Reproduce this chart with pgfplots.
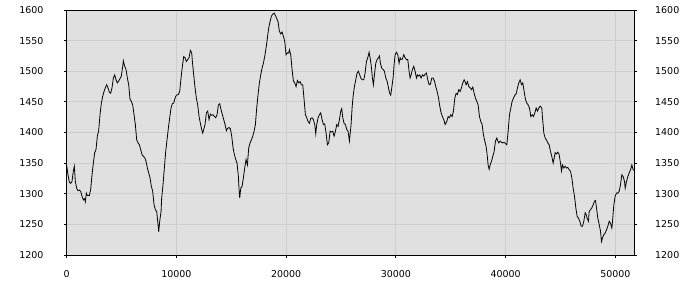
\documentclass[border=0pt]{standalone}
\usepackage{fontspec}
\setmainfont{DejaVu Sans}
\usepackage{pgfplots}
\usepackage{pgfplotstable}
\pgfplotsset{compat=1.18}
\definecolor{bgc}{RGB}{224,224,224}
\definecolor{gridc}{RGB}{206,206,206}
\pgfplotstableread{
x y
0 1346
119 1331
240 1319
362 1317
483 1320
605 1337
696 1345
787 1320
909 1309
1030 1305
1152 1306
1274 1304
1395 1296
1517 1290
1638 1292
1699 1287
1790 1301
1881 1297
2064 1297
2185 1307
2307 1331
2428 1350
2550 1367
2671 1372
2793 1394
2915 1403
3036 1429
3158 1448
3279 1459
3401 1467
3522 1473
3644 1478
3765 1473
3887 1466
4009 1464
4130 1473
4252 1489
4373 1494
4495 1486
4616 1481
4738 1484
4860 1488
4981 1492
5103 1508
5163 1517
5285 1508
5407 1503
5528 1489
5650 1478
5771 1454
5893 1451
6014 1445
6136 1429
6257 1413
6379 1388
6501 1383
6622 1380
6744 1372
6865 1364
6987 1361
7108 1359
7230 1353
7352 1342
7473 1334
7595 1326
7716 1312
7838 1304
7959 1282
8081 1274
8202 1271
8324 1250
8385 1238
8476 1255
8598 1271
8657 1293
8779 1315
8900 1342
9022 1369
9143 1388
9265 1407
9386 1424
9508 1440
9630 1447
9751 1448
9873 1456
9994 1461
10177 1462
10298 1467
10420 1489
10541 1508
10663 1524
10784 1522
10906 1516
11028 1519
11149 1522
11271 1534
11392 1530
11453 1516
11575 1494
11696 1473
11818 1456
11939 1445
12061 1426
12182 1415
12304 1405
12395 1399
12486 1405
12608 1413
12729 1432
12851 1435
12973 1421
13094 1430
13216 1428
13337 1429
13459 1426
13580 1424
13702 1429
13823 1445
13945 1447
14067 1437
14188 1429
14310 1421
14431 1413
14553 1403
14674 1407
14796 1408
14917 1406
15039 1394
15161 1375
15282 1364
15404 1356
15525 1350
15647 1328
15708 1307
15768 1293
15860 1309
15981 1312
16103 1326
16224 1342
16346 1356
16467 1347
16589 1375
16710 1383
16832 1388
16954 1394
17075 1402
17196 1413
17317 1440
17439 1462
17560 1481
17682 1494
17803 1505
17925 1513
18046 1524
18168 1538
18290 1554
18411 1571
18533 1581
18654 1590
18776 1593
18897 1595
19019 1591
19141 1586
19262 1581
19384 1565
19505 1561
19627 1564
19748 1557
19870 1549
19991 1527
20113 1530
20235 1530
20295 1535
20417 1527
20538 1503
20660 1484
20782 1481
20903 1475
21025 1485
21146 1481
21268 1483
21389 1478
21511 1478
21633 1454
21754 1429
21876 1424
21997 1418
22119 1415
22240 1423
22362 1424
22483 1421
22605 1413
22696 1398
22787 1413
22909 1424
23030 1429
23152 1432
23274 1421
23395 1413
23517 1414
23638 1399
23760 1380
23881 1383
24003 1402
24124 1401
24246 1402
24368 1394
24489 1402
24611 1413
24732 1410
24854 1421
24975 1435
25067 1439
25158 1424
25279 1415
25401 1413
25522 1405
25644 1402
25766 1386
25916 1413
26008 1440
26099 1459
26220 1475
26342 1486
26463 1497
26585 1500
26706 1494
26828 1488
26950 1486
27071 1486
27193 1497
27314 1516
27436 1522
27557 1531
27649 1522
27740 1511
27861 1489
27952 1478
28044 1494
28165 1513
28287 1519
28408 1522
28499 1525
28591 1513
28712 1505
28834 1503
28955 1500
29077 1489
29198 1484
29320 1473
29442 1464
29533 1461
29624 1473
29745 1489
29837 1511
29928 1527
30049 1531
30171 1527
30293 1513
30384 1522
30475 1519
30596 1520
30718 1527
30840 1522
30961 1519
31083 1519
31204 1500
31295 1489
31387 1494
31508 1503
31630 1508
31751 1500
31873 1489
31964 1494
32055 1492
32177 1494
32298 1489
32420 1494
32541 1492
32663 1495
32784 1497
32906 1486
33028 1478
33149 1479
33271 1489
33392 1489
33514 1484
33635 1475
33757 1467
33879 1457
34000 1443
34122 1432
34243 1426
34365 1421
34486 1413
34638 1418
34760 1426
34881 1424
35003 1429
35124 1426
35246 1435
35367 1456
35489 1464
35611 1462
35732 1470
35854 1467
35975 1473
36097 1481
36218 1486
36310 1483
36401 1478
36522 1483
36644 1475
36765 1473
36887 1470
37009 1474
37130 1464
37252 1456
37373 1451
37495 1445
37616 1426
37738 1418
37859 1413
37981 1396
38103 1386
38224 1377
38315 1364
38406 1347
38498 1340
38589 1347
38710 1353
38832 1361
38954 1369
39075 1386
39197 1391
39288 1386
39379 1383
39501 1386
39622 1384
39744 1383
39865 1384
40048 1381
40108 1380
40230 1402
40351 1429
40473 1440
40595 1451
40716 1456
40838 1461
40959 1463
41081 1473
41202 1481
41324 1486
41445 1478
41567 1481
41689 1467
41810 1454
41932 1448
42053 1445
42175 1440
42296 1426
42418 1429
42539 1426
42661 1432
42783 1440
42904 1435
43026 1440
43147 1443
43298 1440
43359 1424
43420 1413
43480 1399
43602 1391
43724 1388
43845 1383
43967 1380
44088 1369
44210 1361
44331 1350
44423 1358
44514 1367
44635 1365
44757 1368
44878 1364
45000 1350
45091 1337
45182 1347
45304 1342
45425 1345
45547 1342
45669 1343
45790 1339
45912 1337
46033 1326
46155 1309
46276 1296
46398 1277
46519 1263
46641 1260
46763 1255
46884 1247
47006 1247
47127 1255
47249 1269
47340 1266
47431 1260
47553 1255
47614 1271
47735 1274
47857 1277
47978 1282
48100 1288
48191 1289
48282 1277
48404 1260
48525 1250
48647 1239
48738 1222
48829 1228
48951 1233
49072 1236
49194 1241
49315 1247
49437 1255
49558 1252
49680 1244
49741 1255
49862 1282
49984 1296
50105 1301
50227 1301
50349 1304
50470 1315
50592 1331
50713 1328
50835 1320
50896 1309
51017 1320
51139 1328
51260 1334
51382 1339
51503 1347
51625 1339
51700 1339
}\series
\pgfplotsset{
  mybase/.style={
    at={(0,0)}, anchor=south west,
    width=567.3bp, height=245bp, scale only axis,
    xmin=0, xmax=51700, ymin=1200, ymax=1600,
    xtick={0,10000,20000,30000,40000,50000},
    ytick={1200,1250,1300,1350,1400,1450,1500,1550,1600},
    tick align=outside, major tick length=3bp,
    tick style={black, line width=0.8bp},
    axis line style={black, line width=0.8bp},
    scaled x ticks=false, scaled y ticks=false,
    /pgf/number format/1000 sep={},
    /pgf/number format/fixed,
    /pgf/number format/assume math mode=true,
    ticklabel style={font=\fontsize{9.5}{10}\selectfont, text=black},
  }
}
\begin{document}
\begin{tikzpicture}
\begin{axis}[mybase,
  axis background/.style={fill=bgc},
  grid=major, major grid style={gridc, line width=0.8bp},
  xtick pos=bottom, ytick pos=left,
  yticklabel style={anchor=east, inner sep=0pt, xshift=-20bp},
  xticklabel style={anchor=north, inner sep=0pt, yshift=-12bp},
]
\addplot[black, line width=0.8bp] table[x=x, y=y] {\series};
\end{axis}
\begin{axis}[mybase,
  axis x line=none, axis y line*=right,
  yticklabel style={anchor=west, inner sep=0pt, xshift=18bp},
]
\addplot[draw=none] coordinates {(0,1200)};
\end{axis}
\pgfresetboundingbox
\path (-66.7bp,-45bp) rectangle (633.3bp,255bp);
\end{tikzpicture}
\end{document}
